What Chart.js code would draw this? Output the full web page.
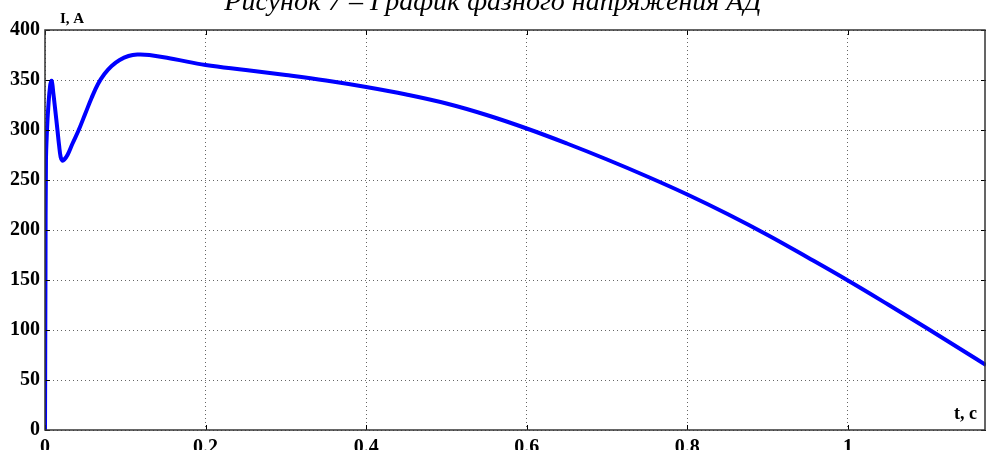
<!DOCTYPE html>
<html>
<head>
<meta charset="utf-8">
<script src="https://cdn.jsdelivr.net/npm/chart.js@4"></script>
<style>
  html, body { margin: 0; padding: 0; background: #fff; }
  #wrap { width: 986px; height: 450px; position: relative; }
</style>
</head>
<body>
<div id="wrap"><canvas id="chart"></canvas></div>
<script>
// время, с
const timeValues = [0, 0.0006, 0.0012, 0.0025, 0.0041, 0.0065, 0.0083, 0.0105, 0.0125, 0.0155, 0.0175, 0.0195,
  0.0215, 0.024, 0.028, 0.034, 0.042, 0.05, 0.058, 0.066, 0.074, 0.083, 0.093, 0.104, 0.115, 0.13, 0.16, 0.2,
  0.25, 0.3, 0.35, 0.4, 0.45, 0.5, 0.55, 0.6, 0.65, 0.7, 0.75, 0.8, 0.85, 0.9, 0.95, 1.0, 1.05, 1.1, 1.15, 1.172];
// ток, А
const currentValues = [0, 160, 269, 300, 323, 345, 349, 336, 322, 300, 285, 273,
  269.5, 270.5, 275, 286, 300, 316, 332, 346, 356, 364, 370, 374, 375.5, 375, 371, 365,
  360, 355, 349.5, 343, 335.5, 326.5, 315, 301.5, 286.5, 270.5, 253.5, 235.5, 216, 195, 172.5, 149.5, 125.5, 101, 76, 65];
const xTicks = [0, 0.2, 0.4, 0.6, 0.8, 1];
const yTicks = [0, 50, 100, 150, 200, 250, 300, 350, 400];
const titleText = 'Рисунок 7 – График фазного напряжения АД';

const points = timeValues.map((t, i) => ({ x: t, y: currentValues[i] }));
const labelFont = { family: '"Liberation Serif", "Times New Roman", serif', size: 20, weight: 'bold' };

// рамка, внутренние засечки и подписи осей
const framePlugin = {
  id: 'frame',
  afterDraw(chart) {
    const { ctx, chartArea: a, scales } = chart;
    ctx.save();
    ctx.strokeStyle = '#000';
    ctx.lineWidth = 1;
    const len = 5;
    ctx.beginPath();
    xTicks.forEach(v => {
      const px = Math.round(scales.x.getPixelForValue(v)) + 0.5;
      ctx.moveTo(px, a.bottom); ctx.lineTo(px, a.bottom - len);
      ctx.moveTo(px, a.top); ctx.lineTo(px, a.top + len);
    });
    yTicks.forEach(v => {
      const py = Math.round(scales.y.getPixelForValue(v)) + 0.5;
      ctx.moveTo(a.left, py); ctx.lineTo(a.left + len, py);
      ctx.moveTo(a.right, py); ctx.lineTo(a.right - len, py);
    });
    ctx.stroke();
    ctx.lineWidth = 1.5;
    ctx.strokeStyle = '#333';
    ctx.strokeRect(a.left, a.top, a.right - a.left - 1, a.bottom - a.top);

    ctx.fillStyle = '#000';
    ctx.font = 'bold 15px "Liberation Serif", serif';
    ctx.textBaseline = 'alphabetic';
    ctx.textAlign = 'left';
    ctx.fillText('I, A', a.left + 15, a.top - 7);
    ctx.font = 'bold 18px "Liberation Serif", serif';
    ctx.fillText('t, c', a.right - 32, a.bottom - 11);

    ctx.font = 'italic 28px "Liberation Serif", serif';
    ctx.textAlign = 'center';
    ctx.fillText(titleText, 493, 10);
    ctx.restore();
  }
};

new Chart(document.getElementById('chart'), {
  type: 'line',
  data: {
    datasets: [{
      data: points,
      borderColor: '#0000ff',
      borderWidth: 4,
      pointRadius: 0,
      fill: false,
      tension: 0.4
    }]
  },
  options: {
    responsive: true,
    maintainAspectRatio: false,
    animation: false,
    layout: { padding: { top: 30, right: 0, left: 0, bottom: 0 } },
    plugins: { legend: { display: false }, tooltip: { enabled: false } },
    scales: {
      x: {
        type: 'linear',
        min: 0,
        max: 1.172,
        afterBuildTicks: s => { s.ticks = xTicks.map(v => ({ value: v })); },
        afterFit: s => { s.height = 20; s.paddingLeft = 0; s.paddingRight = 0; },
        ticks: {
          color: '#000',
          font: labelFont,
          padding: 6,
          maxRotation: 0,
          callback: v => String(v)
        },
        grid: {
          color: '#666',
          lineWidth: 1,
          drawTicks: false,
          tickLength: 0
        },
        border: { display: false, dash: [1, 3] }
      },
      y: {
        min: 0,
        max: 400,
        afterBuildTicks: s => { s.ticks = yTicks.map(v => ({ value: v })); },
        afterFit: s => { s.width = 45; s.paddingTop = 0; s.paddingBottom = 0; },
        ticks: {
          color: '#000',
          font: labelFont,
          padding: 5
        },
        grid: {
          color: '#666',
          lineWidth: 1,
          drawTicks: false,
          tickLength: 0
        },
        border: { display: false, dash: [1, 3] }
      }
    }
  },
  plugins: [framePlugin]
});
</script>
</body>
</html>
